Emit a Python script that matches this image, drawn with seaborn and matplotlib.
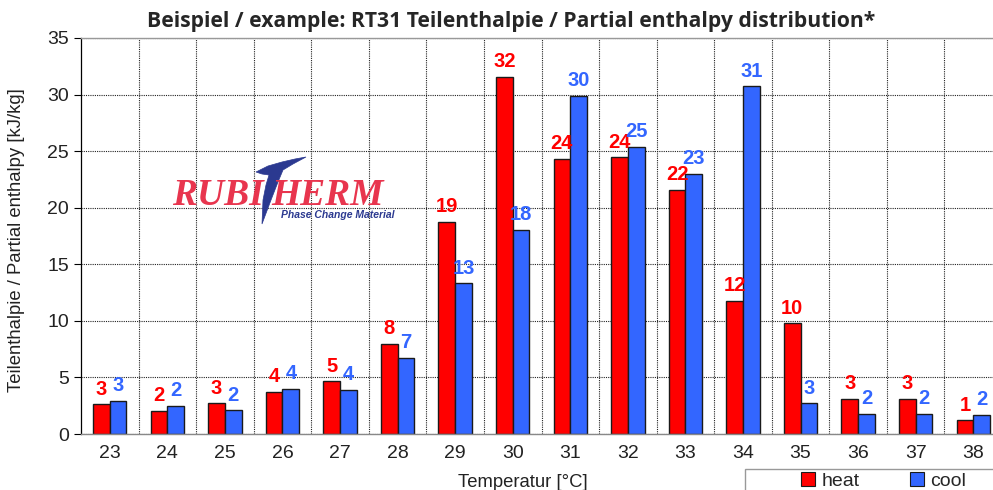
import numpy as np
import pandas as pd
import matplotlib.pyplot as plt
import matplotlib.patches as mpatches
import seaborn as sb

temps = [23, 24, 25, 26, 27, 28, 29, 30, 31, 32, 33, 34, 35, 36, 37, 38]
heat = [2.63, 2.03, 2.71, 3.71, 4.66, 7.96, 18.74, 31.59, 24.34, 24.46, 21.57, 11.76, 9.79, 3.12, 3.12, 1.21]
cool = [2.95, 2.48, 2.09, 3.98, 3.89, 6.75, 13.32, 18.04, 29.89, 25.40, 22.99, 30.74, 2.71, 1.77, 1.77, 1.68]
modes = ["heat", "cool"]
colors = {"heat": "#FF0000", "cool": "#3366FF"}

df = pd.DataFrame({
	"temp": [str(t) for t in temps] * 2,
	"value": heat + cool,
	"mode": ["heat"] * len(temps) + ["cool"] * len(temps),
})

W, H = 993, 490
sb.set_style("white")
plt.rcParams["font.family"] = ["Liberation Sans", "DejaVu Sans"]

fig = plt.figure(figsize=(W / 100, H / 100), dpi=100)
ax = fig.add_axes([81 / W, 56 / H, (1002 - 81) / W, (434 - 38) / H])

sb.barplot(data=df, x="temp", y="value", hue="mode", hue_order=modes, palette=colors,
	width=0.58, gap=0, edgecolor="#1a1a1a", linewidth=1, saturation=1, legend=False, ax=ax)

for cont, m in zip(ax.containers, modes):
	ax.bar_label(cont, fmt="%.0f", color=colors[m], fontweight="bold", fontsize=14.5, padding=4)

ax.set_xlim(-0.5, len(temps) - 0.5)
ax.set_ylim(0, 35)
ax.set_yticks(np.arange(0, 36, 5))
ax.set_xticks(np.arange(len(temps)))
ax.set_xticks(np.arange(len(temps)) + 0.5, minor=True)
ax.tick_params(axis="x", which="major", length=0, labelsize=14, pad=8, colors="#222222")
ax.tick_params(axis="x", which="minor", length=6, width=0.8, color="black")
ax.tick_params(axis="y", length=5, width=0.8, labelsize=14, left=True, colors="#222222")
ax.tick_params(axis="y", color="black")

ax.grid(False)
ax.grid(True, axis="x", which="minor", color="#222222", linestyle=(0, (1, 1)), linewidth=0.8)
ax.grid(True, axis="y", which="major", color="#222222", linestyle=(0, (1, 1)), linewidth=0.8)
ax.set_axisbelow(True)
ax.set_xlabel("")
ax.set_ylabel("")

ax.spines["right"].set_visible(False)
ax.spines["left"].set_color("black")
ax.spines["left"].set_linewidth(0.9)
ax.spines["bottom"].set_color("#888888")
ax.spines["top"].set_color("#999999")
ax.spines["bottom"].set_linewidth(1)
ax.spines["top"].set_linewidth(1)

def fx(x):
	return x / W

def fy(y):
	return 1 - y / H

fig.text(fx(511), fy(22), "Beispiel / example: RT31 Teilenthalpie / Partial enthalpy distribution*",
	ha="center", va="center", fontsize=15.2, fontweight="bold", family=["Open Sans", "DejaVu Sans"])
fig.text(fx(17), fy(240), "Teilenthalpie / Partial enthalpy [kJ/kg]", rotation=90,
	ha="center", va="center", fontsize=13.3, color="#222222")
fig.text(fx(523), fy(474), "Temperatur [°C]", ha="center", va="top", fontsize=13.3, color="#222222")

# legend box at bottom right
fig.add_artist(mpatches.Rectangle((fx(745), fy(500)), fx(260), 31 / H, transform=fig.transFigure,
	facecolor="white", edgecolor="#999999", linewidth=1))
handles = [mpatches.Patch(facecolor=colors[m], edgecolor="#1a1a1a", linewidth=0.8) for m in modes]
fig.legend(handles, modes, loc="center left", bbox_to_anchor=(fx(801), fy(481)), ncol=2, frameon=False,
	fontsize=14, handlelength=0.7, handleheight=0.7, handletextpad=0.35, columnspacing=2.6,
	borderpad=0, borderaxespad=0)

# Rubitherm logo
logo_red = "#E8354E"
logo_blue = "#2B3990"
fig.text(fx(172), fy(205), "RUBI", fontsize=27, fontweight="bold", fontstyle="italic", color=logo_red,
	family=["Liberation Serif", "DejaVu Serif"], ha="left", va="baseline")
fig.text(fx(271), fy(205), "HERM", fontsize=27, fontweight="bold", fontstyle="italic", color=logo_red,
	family=["Liberation Serif", "DejaVu Serif"], ha="left", va="baseline")
swoosh = [(256, 172), (268, 166), (282, 162), (295, 159), (306, 157), (293, 164), (283, 170),
	(278, 182), (271, 200), (262, 224), (263, 200), (266, 185), (269, 175), (262, 174)]
fig.add_artist(mpatches.Polygon([(fx(x), fy(y)) for x, y in swoosh], closed=True,
	transform=fig.transFigure, facecolor=logo_blue, edgecolor=logo_blue, linewidth=0.5))
fig.text(fx(281), fy(214.5), "Phase Change Material", fontsize=7.5, fontweight="bold", fontstyle="italic",
	color=logo_blue, ha="left", va="center")

plt.savefig("out.png", dpi=100)
